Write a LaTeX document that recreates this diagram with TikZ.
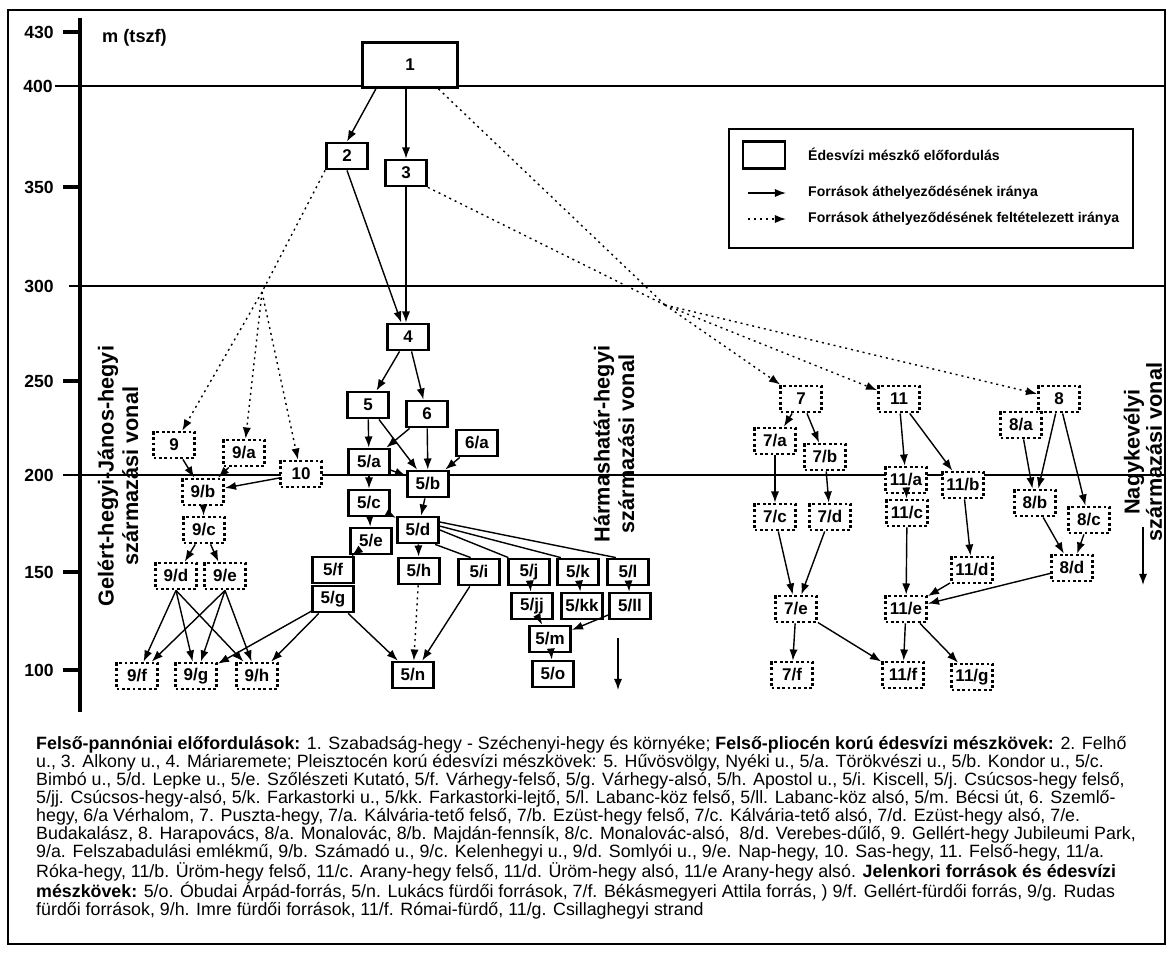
\documentclass[tikz,border=0pt]{standalone}
\usepackage{fontspec}
\setmainfont{Liberation Sans}
\usetikzlibrary{arrows.meta}

\tikzset{
    forras/.style={draw, line width=2.4pt, fill=white, minimum width=1.23cm, minimum height=0.78cm,
        inner sep=0pt, font=\bfseries\fontsize{14.5}{16}\selectfont},
    sejtett/.style={forras, dash pattern=on 2.4pt off 2.2pt},
    ut/.style={-{Latex[length=9.5pt,width=7pt]}, line width=1.2pt},
    sejtut/.style={ut, dash pattern=on 1.7pt off 3.4pt},
    szint/.style={line width=2pt},
    tengely/.style={anchor=east, inner sep=0pt, font=\bfseries\fontsize{15}{17}\selectfont},
    vonal/.style={rotate=90, align=center, inner sep=0pt, font=\bfseries\fontsize{18.5}{21}\selectfont},
    jelmagy/.style={anchor=west, inner sep=0pt, font=\bfseries\fontsize{12}{14}\selectfont}
}

\begin{document}
\begin{tikzpicture}[x=0.3mm, y=-0.3mm]
    \useasboundingbox (0,0) rectangle (1172,952);
    \draw[line width=2.4pt] (8,10) rectangle (1165,944);

    % magassagi tengely
    \draw[line width=2.6pt] (80,18) -- (80,712);
    \foreach \y/\m in {32/430, 187/350, 381/250, 572/150, 670/100}{
        \draw[line width=2.6pt] (63,\y) -- (80,\y);
        \node[tengely] at (54,\y) {\m};
    }
    \draw[szint] (55,86) -- (1165,86);
    \node[tengely] at (53,86) {400};
    \draw[szint] (69,286) -- (1165,286);
    \node[tengely] at (54,286) {300};
    \draw[szint] (63,475) -- (1165,475);
    \node[tengely] at (54,475) {200};
    \node[anchor=west, inner sep=0pt, font=\bfseries\fontsize{15.5}{17}\selectfont] (mt) at (102,38) {m (tszf)};

    % szarmazasi vonalak
    \node[vonal] (gj) at (118,476) {Gelért-hegyi-János-hegyi\\származási vonal};
    \node[vonal] (hh) at (614,444) {Hármashatár-hegyi\\származási vonal};
    \node[vonal, font=\bfseries\fontsize{18.5}{19}\selectfont] (nk) at (1143,452) {Nagykevélyi\\származási vonal};
    \coordinate (hh1) at (618,638);
    \coordinate (hh2) at (618,690);
    \coordinate (nk1) at (1143,527);
    \coordinate (nk2) at (1143,585);
    \draw[ut] (hh1) -- (hh2);
    \draw[ut] (nk1) -- (nk2);

    % jelmagyarazat
    \draw[line width=2.4pt] (729,129) rectangle (1133,248);
    \node[forras, minimum width=1.26cm, minimum height=0.81cm] (jm) at (764,155) {};
    \node[jelmagy] at (808,154) {Édesvízi mészkő előfordulás};
    \coordinate (ja1) at (748,193);
    \coordinate (ja2) at (786,193);
    \coordinate (jb1) at (748,219);
    \coordinate (jb2) at (786,219);
    \draw[ut] (ja1) -- (ja2);
    \draw[sejtut] (jb1) -- (jb2);
    \node[jelmagy] at (808,193) {Források áthelyeződésének iránya};
    \node[jelmagy] at (808,219) {Források áthelyeződésének feltételezett iránya};

    % elofordulasok
    \node[forras, minimum width=2.85cm, minimum height=1.35cm] (n1) at (410,65) {1};
    \node[forras] (n2) at (347,156) {2};
    \node[forras] (n3) at (406,173) {3};
    \node[forras] (n4) at (408,337) {4};
    \node[forras] (n5) at (368,405) {5};
    \node[forras] (n6) at (427,414) {6};
    \node[forras] (n6a) at (477,443) {6/a};
    \node[forras] (n5a) at (369,462) {5/a};
    \node[forras] (n5b) at (428,484) {5/b};
    \node[forras] (n5c) at (369,503) {5/c};
    \node[forras] (n5d) at (418,530) {5/d};
    \node[forras] (n5e) at (371,541) {5/e};
    \node[forras] (n5f) at (333,570) {5/f};
    \node[forras] (n5g) at (333,599) {5/g};
    \node[forras] (n5h) at (419,571) {5/h};
    \node[forras] (n5i) at (479,572) {5/i};
    \node[forras] (n5j) at (529,572) {5/j};
    \node[forras] (n5k) at (578,572) {5/k};
    \node[forras] (n5l) at (628,572) {5/l};
    \node[forras] (n5jj) at (532,606) {5/jj};
    \node[forras] (n5kk) at (582,606) {5/kk};
    \node[forras] (n5ll) at (630,606) {5/ll};
    \node[forras] (n5m) at (550,639) {5/m};
    \node[forras] (n5o) at (553,674) {5/o};
    \node[forras] (n5n) at (413,675) {5/n};

    \node[sejtett] (n9) at (174,445) {9};
    \node[sejtett] (n9a) at (244,453) {9/a};
    \node[sejtett] (n10) at (301,474) {10};
    \node[sejtett] (n9b) at (203,492) {9/b};
    \node[sejtett] (n9c) at (204,530) {9/c};
    \node[sejtett] (n9d) at (176,576) {9/d};
    \node[sejtett] (n9e) at (225,576) {9/e};
    \node[sejtett] (n9f) at (137,676) {9/f};
    \node[sejtett] (n9g) at (196,676) {9/g};
    \node[sejtett] (n9h) at (257,676) {9/h};

    \node[sejtett] (n7) at (801,399) {7};
    \node[sejtett] (n11) at (899,399) {11};
    \node[sejtett] (n8) at (1059,399) {8};
    \node[sejtett] (n7a) at (775,441) {7/a};
    \node[sejtett] (n7b) at (825,457) {7/b};
    \node[sejtett] (n8a) at (1021,425) {8/a};
    \node[sejtett] (n11a) at (906,480) {11/a};
    \node[sejtett] (n11b) at (963,485) {11/b};
    \node[sejtett] (n8b) at (1035,503) {8/b};
    \node[sejtett] (n8c) at (1089,520) {8/c};
    \node[sejtett] (n7c) at (775,517) {7/c};
    \node[sejtett] (n7d) at (830,517) {7/d};
    \node[sejtett] (n11c) at (907,513) {11/c};
    \node[sejtett] (n11d) at (972,570) {11/d};
    \node[sejtett] (n8d) at (1072,568) {8/d};
    \node[sejtett] (n7e) at (796,609) {7/e};
    \node[sejtett] (n11e) at (906,609) {11/e};
    \node[sejtett] (n7f) at (792,675) {7/f};
    \node[sejtett] (n11f) at (903,675) {11/f};
    \node[sejtett] (n11g) at (972,677) {11/g};

    % athelyezodes
    \draw[ut] (n1.215) -- (n2.north);
    \draw[ut] (n3 |- n1.south) -- (n3.north);
    \draw[ut] (n2.south) -- (n4.115);
    \draw[ut] (n3.south) -- (n3.south |- n4.north);
    \draw[ut] (n4) -- (n5);
    \draw[ut] (n4) -- (n6);
    \draw[ut] (n5) -- (n5a);
    \draw[ut] (n6) -- (n5a);
    \draw[ut] (n5) -- (n5b);
    \draw[ut] (n6) -- (n5b);
    \draw[ut] (n6a) -- (n5b);
    \draw[ut] (n5a) -- (n5b);
    \draw[ut] (n5a) -- (n5c);
    \draw[ut] (n5c) -- (n5d);
    \draw[ut] (n5b) -- (n5d);
    \draw[ut] (n5c) -- (n5e);
    \draw[ut] (n5e) -- (n5f);
    \draw[ut] (n5d) -- (n5h);
    \draw[line width=1.2pt] (n5d.20) -- (n5l.130);
    \draw[line width=1.2pt] (n5d.10) -- (n5k.140);
    \draw[line width=1.2pt] (n5d.0) -- (n5j.145);
    \draw[line width=1.2pt] (n5d.-40) -- (n5i.120);
    \draw[ut] (n5j) -- (n5jj);
    \draw[ut] (n5k) -- (n5kk);
    \draw[ut] (n5l) -- (n5ll);
    \draw[ut] (n5jj) -- (n5m);
    \draw[ut] (n5ll) -- (n5m);
    \draw[ut] (n5m) -- (n5o);
    \draw[ut] (n5g) -- (n5n);
    \draw[ut] (n5i) -- (n5n);
    \draw[sejtut] (n5h) -- (n5n);
    \draw[ut] (n5g) -- (n9g);
    \draw[ut] (n5g) -- (n9h);

    \coordinate (e1) at (262,292);
    \draw[sejtut, -] (n2.south west) -- (e1);
    \draw[sejtut] (e1) -- (n9);
    \draw[sejtut] (e1) -- (n9a);
    \draw[sejtut] (e1) -- (n10);
    \draw[ut] (n9) -- (n9b);
    \draw[ut] (n9a) -- (n9b);
    \draw[ut] (n10) -- (n9b);
    \draw[ut] (n9b) -- (n9c);
    \draw[ut] (n9c) -- (n9d);
    \draw[ut] (n9c) -- (n9e);
    \draw[ut] (n9d.south) -- (n9f);
    \draw[ut] (n9d.south) -- (n9g);
    \draw[ut] (n9d.south) -- (n9h);
    \draw[ut] (n9e.south) -- (n9f);
    \draw[ut] (n9e.south) -- (n9g);
    \draw[ut] (n9e.south) -- (n9h);

    \coordinate (e2) at (665,305);
    \draw[sejtut, -] (n1.-40) -- (e2);
    \draw[sejtut, -] (n3.south east) -- (e2);
    \draw[sejtut] (e2) -- (n7);
    \draw[sejtut] (e2) -- (n11);
    \draw[sejtut] (e2) -- (n8);
    \draw[ut] (n7) -- (n7a);
    \draw[ut] (n7) -- (n7b);
    \draw[ut] (n7a) -- (n7c);
    \draw[ut] (n7b) -- (n7d);
    \draw[ut] (n7c) -- (n7e);
    \draw[ut] (n7d) -- (n7e);
    \draw[ut] (n7e) -- (n7f);
    \draw[ut] (n7e) -- (n11f);
    \draw[ut] (n11) -- (n11a);
    \draw[ut] (n11) -- (n11b);
    \draw[ut] (n11a) -- (n11c);
    \draw[ut] (n11b) -- (n11d);
    \draw[ut] (n11c) -- (n11e);
    \draw[ut] (n11d) -- (n11e);
    \draw[ut] (n8d) -- (n11e);
    \draw[ut] (n11e) -- (n11f);
    \draw[ut] (n11e) -- (n11g);
    \draw[ut] (n8) -- (n8b);
    \draw[ut] (n8) -- (n8c);
    \draw[ut] (n8a) -- (n8b);
    \draw[ut] (n8b) -- (n8d);
    \draw[ut] (n8c) -- (n8d);

    % felirat
    \node[anchor=north west, inner sep=0pt, align=left, font=\fontsize{15.2}{15.4}\selectfont] (fel) at (36,736) {%
        \textbf{Felső-pannóniai előfordulások:} 1. Szabadság-hegy - Széchenyi-hegy és környéke; \textbf{Felső-pliocén korú édesvízi mészkövek:} 2. Felhő\\
        u., 3. Alkony u., 4. Máriaremete; Pleisztocén korú édesvízi mészkövek: 5. Hűvösvölgy, Nyéki u., 5/a. Törökvészi u., 5/b. Kondor u., 5/c.\\
        Bimbó u., 5/d. Lepke u., 5/e. Szőlészeti Kutató, 5/f. Várhegy-felső, 5/g. Várhegy-alsó, 5/h. Apostol u., 5/i. Kiscell, 5/j. Csúcsos-hegy felső,\\
        5/jj. Csúcsos-hegy-alsó, 5/k. Farkastorki u., 5/kk. Farkastorki-lejtő, 5/l. Labanc-köz felső, 5/ll. Labanc-köz alsó, 5/m. Bécsi út, 6. Szemlő-\\
        hegy, 6/a Vérhalom, 7. Puszta-hegy, 7/a. Kálvária-tető felső, 7/b. Ezüst-hegy felső, 7/c. Kálvária-tető alsó, 7/d. Ezüst-hegy alsó, 7/e.\\
        Budakalász, 8. Harapovács, 8/a. Monalovác, 8/b. Majdán-fennsík, 8/c. Monalovác-alsó, \ 8/d. Verebes-dűlő, 9. Gellért-hegy Jubileumi Park,\\
        9/a. Felszabadulási emlékmű, 9/b. Számadó u., 9/c. Kelenhegyi u., 9/d. Somlyói u., 9/e. Nap-hegy, 10. Sas-hegy, 11. Felső-hegy, 11/a.\\
        Róka-hegy, 11/b. Üröm-hegy felső, 11/c. Arany-hegy felső, 11/d. Üröm-hegy alsó, 11/e Arany-hegy alsó. \textbf{Jelenkori források és édesvízi}\\
        \textbf{mészkövek:} 5/o. Óbudai Árpád-forrás, 5/n. Lukács fürdői források, 7/f. Békásmegyeri Attila forrás, ) 9/f. Gellért-fürdői forrás, 9/g. Rudas\\
        fürdői források, 9/h. Imre fürdői források, 11/f. Római-fürdő, 11/g. Csillaghegyi strand};
\end{tikzpicture}
\end{document}
